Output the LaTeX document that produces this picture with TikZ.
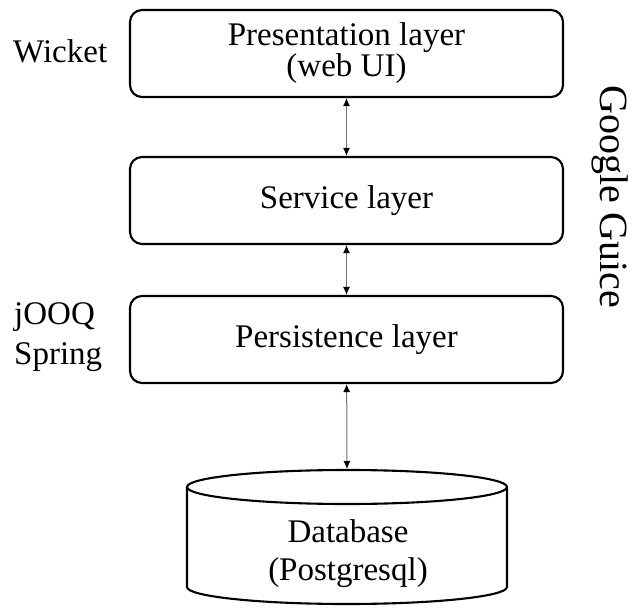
\documentclass[tikz,border=0pt]{standalone}
\usepackage{fontspec}
\setmainfont{Liberation Serif}
\usetikzlibrary{arrows.meta}

\tikzset{
  layer/.style={draw, line width=2.1pt, rounded corners=12pt, minimum width=433pt,
    minimum height=87pt, inner sep=0pt, align=center, font=\fontsize{33}{31}\selectfont},
  link/.style={draw=black!55, line width=1pt,
    {Latex[black,length=8pt,width=7pt]}-{Latex[black,length=8pt,width=7pt]}},
  side/.style={inner sep=0pt, font=\fontsize{33}{40}\selectfont}
}

\begin{document}
\begin{tikzpicture}[x=1pt, y=-1pt]
  \useasboundingbox (0,0) rectangle (633,608);

  % the three layers
  \node[layer] (pres) at (346.5,53.5) {Presentation layer\\(web UI)};
  \node[layer] (serv) at (346.5,200.5) {Service layer};
  \node[layer] (pers) at (346.5,339.5) {Persistence layer};

  % database cylinder
  \draw[line width=2.1pt] (347,487) ellipse [x radius=160, y radius=17];
  \draw[line width=2.1pt] (187,487) -- (187,587)
    arc[start angle=180, end angle=0, x radius=160, y radius=17] -- (507,487);
  \coordinate (dbtop) at (347,469);
  \node[align=center, inner sep=0pt, font=\fontsize{33}{38}\selectfont] (db) at (348,554) {Database\\(Postgresql)};

  \draw[link] (pres) -- (serv);
  \draw[link] (serv) -- (pers);
  \draw[link] (pers) -- (dbtop);

  % frameworks
  \node[side, anchor=base west] (wicket) at (13,62) {Wicket};
  \node[side, anchor=west, align=left] (tools) at (14,337) {jOOQ\\Spring};
  \node[side, font=\fontsize{40}{48}\selectfont, rotate=-90, anchor=base west] (guice) at (600,85) {Google Guice};
\end{tikzpicture}
\end{document}
